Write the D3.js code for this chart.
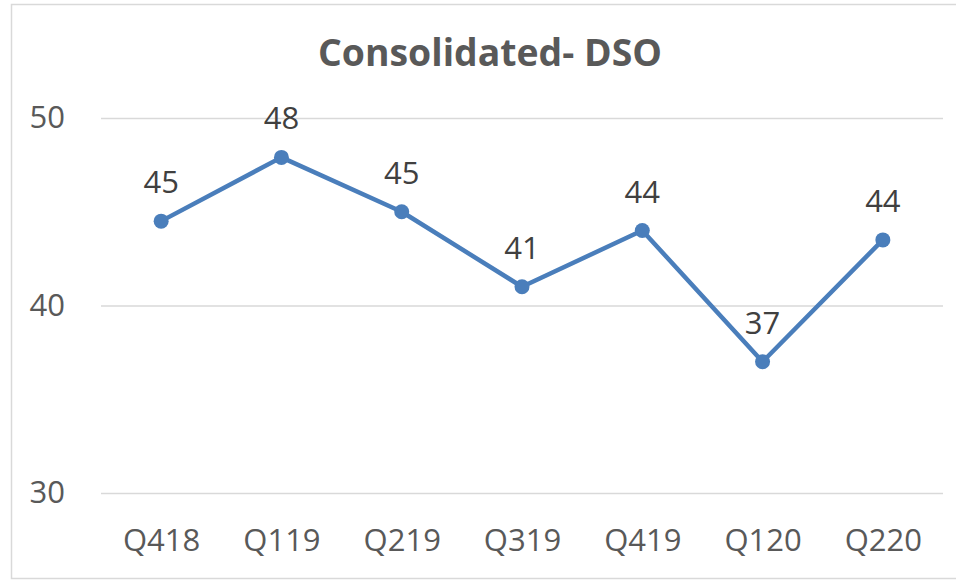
<!DOCTYPE html>
<html>
<head>
<meta charset="utf-8">
<script src="https://cdn.jsdelivr.net/npm/d3@7"></script>
<style>
  body { margin: 0; background: #fff; }
  svg { display: block; }
</style>
</head>
<body>
<div id="chart"></div>
<script>
// Data
var quarters = ["Q418", "Q119", "Q219", "Q319", "Q419", "Q120", "Q220"];
var dso = [44.5, 47.9, 45.0, 41.0, 44.0, 37.0, 43.5];
var yTicks = [30, 40, 50];
var titleText = "Consolidated- DSO";

var attrs = {
  svgWidth: 956,
  svgHeight: 580,
  plotLeft: 101,
  plotRight: 943,
  plotTop: 118,
  plotBottom: 493,
  lineColor: "#4a7ebb",
  textColor: "#595959",
  gridColor: "#d9d9d9",
  fontSize: 31,
  font: "'Open Sans', 'DejaVu Sans', sans-serif"
};

var data = quarters.map(function (q, i) { return { q: q, v: dso[i] }; });

var svg = d3.select("#chart").append("svg")
  .attr("width", attrs.svgWidth)
  .attr("height", attrs.svgHeight)
  .attr("font-family", attrs.font);

// chart border
svg.append("rect")
  .attr("x", 11.5).attr("y", 4.5)
  .attr("width", 960).attr("height", 574)
  .attr("fill", "#fff")
  .attr("stroke", attrs.gridColor)
  .attr("stroke-width", 1.5);

var x = d3.scalePoint()
  .domain(quarters)
  .range([attrs.plotLeft, attrs.plotRight])
  .padding(0.5);

var y = d3.scaleLinear()
  .domain([30, 50])
  .range([attrs.plotBottom, attrs.plotTop]);

// title
svg.append("text")
  .attr("x", 490).attr("y", 66)
  .attr("text-anchor", "middle")
  .attr("font-size", 38)
  .attr("font-weight", "bold")
  .attr("fill", attrs.textColor)
  .attr("textLength", 344)
  .attr("lengthAdjust", "spacingAndGlyphs")
  .text(titleText);

// y axis with gridlines
var yAxis = d3.axisLeft(y)
  .tickValues(yTicks)
  .tickSize(-(attrs.plotRight - attrs.plotLeft))
  .tickPadding(36);

var yg = svg.append("g")
  .attr("transform", "translate(" + attrs.plotLeft + ",0)")
  .call(yAxis);
yg.select(".domain").remove();
yg.selectAll(".tick line")
  .attr("stroke", attrs.gridColor)
  .attr("stroke-width", 1.5);
yg.selectAll(".tick text")
  .attr("fill", attrs.textColor)
  .attr("font-size", attrs.fontSize)
  .attr("font-family", attrs.font);

// x axis labels
var xAxis = d3.axisBottom(x).tickSize(0).tickPadding(0);
var xg = svg.append("g")
  .attr("transform", "translate(0," + attrs.plotBottom + ")")
  .call(xAxis);
xg.select(".domain").remove();
xg.selectAll(".tick text")
  .attr("dy", null)
  .attr("y", 58)
  .attr("fill", attrs.textColor)
  .attr("font-size", attrs.fontSize)
  .attr("font-family", attrs.font);

// line
var line = d3.line()
  .x(function (d) { return x(d.q); })
  .y(function (d) { return y(d.v); });

svg.append("path")
  .datum(data)
  .attr("fill", "none")
  .attr("stroke", attrs.lineColor)
  .attr("stroke-width", 4.5)
  .attr("stroke-linejoin", "round")
  .attr("d", line);

svg.selectAll(".dot")
  .data(data)
  .enter().append("circle")
  .attr("class", "dot")
  .attr("cx", function (d) { return x(d.q); })
  .attr("cy", function (d) { return y(d.v); })
  .attr("r", 7.5)
  .attr("fill", attrs.lineColor);

// data labels
var fmt = d3.format(".0f");
svg.selectAll(".lbl")
  .data(data)
  .enter().append("text")
  .attr("class", "lbl")
  .attr("x", function (d) { return x(d.q); })
  .attr("y", function (d) { return y(d.v) - 28; })
  .attr("text-anchor", "middle")
  .attr("font-size", attrs.fontSize)
  .attr("fill", "#404040")
  .text(function (d) { return fmt(d.v); });
</script>
</body>
</html>
